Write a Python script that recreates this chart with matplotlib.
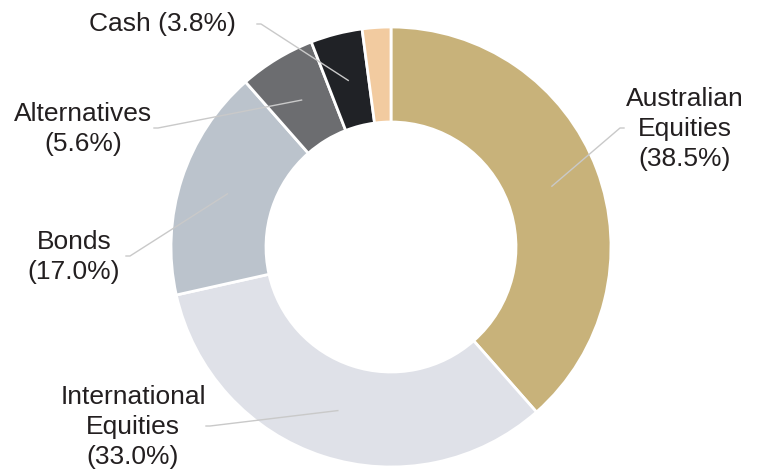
import matplotlib.pyplot as plt
import numpy as np

plt.rcParams["font.family"] = ["Liberation Sans", "DejaVu Sans"]

# asset allocation (%), clockwise from 12 o'clock
categorias = ["Australian\nEquities", "International\nEquities", "Bonds", "Alternatives", "Cash", ""]
valores = [38.5, 33.0, 17.0, 5.6, 3.8, 2.1]
colores = ["#C8B27A", "#DFE1E8", "#BBC3CC", "#6C6D70", "#202226", "#F2CBA0"]

# label placement (text centre, pixels from top-left) and where the leader line ends
pos_texto = [(685, 129), (133, 427), (74, 257), (83, 129), (162, 24), None]
fin_linea = [(620, 128), (210, 426), (130, 256), (158, 128), (261, 24), None]

W, H = 761, 471
cx, cy = 391, H - 247
R = 220
ancho = 95

fig = plt.figure(figsize=(W / 100, H / 100), dpi=100)
ax = fig.add_axes([0, 0, 1, 1])

wedges, _ = ax.pie(
    valores,
    colors=colores,
    startangle=90,
    counterclock=False,
    center=(cx, cy),
    radius=R,
    wedgeprops=dict(width=ancho, edgecolor="white", linewidth=2),
    frame=True,
)
ax.set_xlim(0, W)
ax.set_ylim(0, H)
ax.set_aspect("equal")
ax.axis("off")

r_mid = R - ancho / 2 - 0.5
for w, cat, val, pt, fin in zip(wedges, categorias, valores, pos_texto, fin_linea):
    if pt is None:
        continue
    ang = np.deg2rad((w.theta1 + w.theta2) / 2)
    x0 = cx + r_mid * np.cos(ang)
    y0 = cy + r_mid * np.sin(ang)
    fx, fy = fin[0], H - fin[1]
    lado = 1 if fx > cx else -1
    ax.plot([x0, fx, fx + 4 * lado], [y0, fy, fy],
            color="#C9C9C9", linewidth=1, zorder=5)
    if cat == "Cash":
        texto = f"{cat} ({val:.1f}%)"
    else:
        texto = f"{cat}\n({val:.1f}%)"
    ax.text(pt[0], H - pt[1], texto, ha="center", va="center", multialignment="center",
            fontsize=19, color="#231F20", linespacing=1.32)

fig.savefig("out.png", dpi=100)
